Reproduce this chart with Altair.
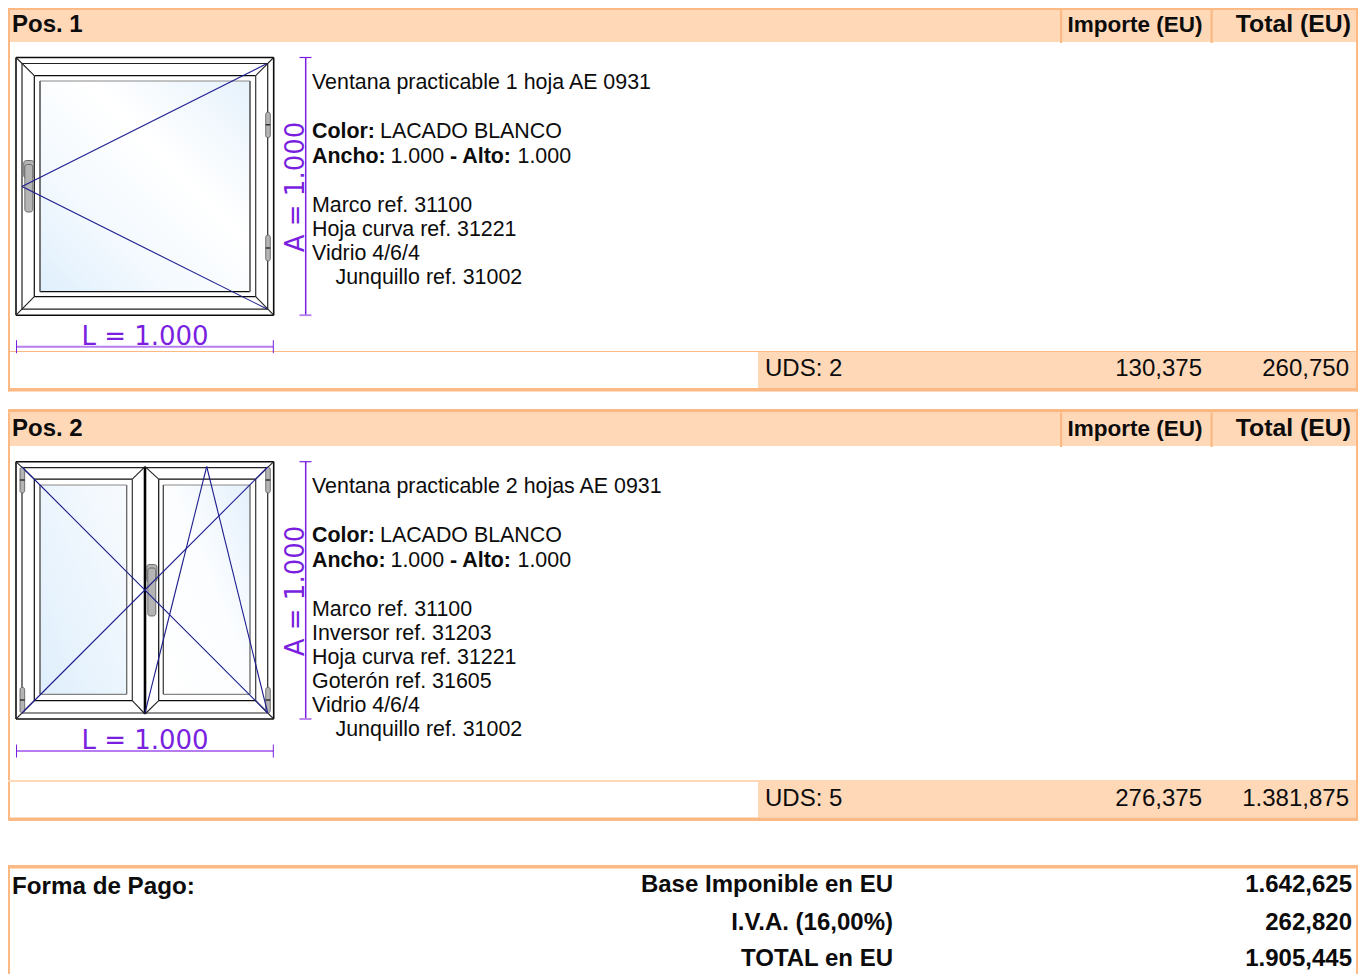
import altair as alt
import pandas as pd

# ---- page palette
BORDER = "#fdb983"
BAND = "#ffd8b8"
INK = "#0c0c0c"
PURPLE = "#7a1fe0"
LILAC = "#b67cf0"
NAVY = "#1c1c8e"
GREY = "#b4b4b4"
SANS = "Liberation Sans"
DIM = "DejaVu Sans"

# ---- content
pos_titles = ["Pos. 1", "Pos. 2"]
col_titles = ["Importe (EU)", "Total (EU)"]
units = ["UDS: 2", "UDS: 5"]
prices = ["130,375", "276,375"]
totals = ["260,750", "1.381,875"]
descriptions = ["Ventana practicable 1 hoja AE 0931", "Ventana practicable 2 hojas AE 0931"]
parts = [
    ["Marco ref. 31100", "Hoja curva ref. 31221", "Vidrio 4/6/4"],
    ["Marco ref. 31100", "Inversor ref. 31203", "Hoja curva ref. 31221", "Goterón ref. 31605", "Vidrio 4/6/4"],
]
bead = "Junquillo ref. 31002"
dim_w = "L = 1.000"
dim_h = "A = 1.000"
summary_labels = ["Base Imponible en EU", "I.V.A. (16,00%)", "TOTAL en EU"]
summary_values = ["1.642,625", "262,820", "1.905,445"]

# ---- block geometry (page pixels)
top = [8.0, 412.5]
head_bot = [42.0, 446.0]
sep = [351.5, 781.0]
band_top = [352.0, 782.0]
bot = [388.0, 817.5]
win_top = [57.5, 461.7]
win_bot = [315.2, 719.0]
line_base = [88.5, 492.5]
dim_y = [346.7, 751.0]
RIGHT_IN = 1356

rects, lines, rounds, reg, bold, head, dims = [], [], [], [], [], [], []


def R(x0, x1, y0, y1, c):
    rects.append(dict(x=x0, x2=x1, y=y0, y2=y1, c=c))


def L(x0, y0, x1, y1, c=INK, w=1.2):
    lines.append(dict(x=x0, x2=x1, y=y0, y2=y1, c=c, w=w))


def T(store, x, y, text, align="left", size=21.4, font=SANS, c=INK):
    store.append(dict(x=x, y=y, t=text, a=align, s=size, f=font, c=c))


for i in range(2):
    R(10 if i == 0 else 8, RIGHT_IN, max(top[i], 10) if i == 0 else top[i], head_bot[i], BAND)
    R(758, RIGHT_IN, band_top[i], bot[i], BAND)
    R(8, 10, top[i], bot[i] + 3.5, BORDER)
    R(RIGHT_IN, 1358, top[i] - 3.5 if i else 8, bot[i] + 3.5, BORDER)
    R(8, 1358, bot[i], bot[i] + 3.5, BORDER)
    R(8, 1358, top[i] - 3.5 if i else 8, top[i] if i else 10, BORDER)
    R(1060, 1062.2, top[i], head_bot[i] + 1, BORDER)
    R(1210.5, 1212.7, top[i], head_bot[i] + 1, BORDER)
    L(8, sep[i], RIGHT_IN, sep[i], BORDER if i == 0 else BAND, 1 if i == 0 else 2)

    hb = top[i] + 23.5
    T(head, 12, hb, pos_titles[i], size=24)
    T(head, 1067.5, hb, col_titles[0], size=22.5)
    T(head, 1351, hb, col_titles[1], "right", size=24.8)

    y0 = line_base[i]
    T(reg, 312, y0, descriptions[i])
    T(bold, 312, y0 + 49.5, "Color:")
    T(reg, 380, y0 + 49.5, "LACADO BLANCO")
    T(bold, 312, y0 + 74.5, "Ancho:")
    T(reg, 390.5, y0 + 74.5, "1.000")
    T(bold, 450, y0 + 74.5, "- Alto:")
    T(reg, 517.5, y0 + 74.5, "1.000")
    for k, p in enumerate(parts[i]):
        T(reg, 312, y0 + 123.5 + 24 * k, p)
    T(reg, 335.5, y0 + 123.5 + 24 * len(parts[i]), bead)

    T(reg, 765, bot[i] - 12, units[i], size=24)
    T(reg, 1202, bot[i] - 12, prices[i], "right", size=24)
    T(reg, 1349, bot[i] - 12, totals[i], "right", size=24)

    # dimension lines
    wt, wb = win_top[i], win_bot[i]
    L(305.7, wt, 305.7, wb, PURPLE, 1.5)
    L(299.5, wt, 311.5, wt, PURPLE, 1.2)
    L(299.5, wb, 311.5, wb, LILAC, 1.8)
    L(16.5, dim_y[i], 273.3, dim_y[i], LILAC, 2)
    L(16.5, dim_y[i] - 6.5, 16.5, dim_y[i] + 6.5, PURPLE, 1)
    L(273.3, dim_y[i] - 6.5, 273.3, dim_y[i] + 6.5, PURPLE, 1)
    T(dims, 145, dim_y[i] - 2, dim_w, "center", 26, DIM, PURPLE)

    # frame
    L(16, wt, 273.7, wt, w=1.6)
    L(16, wb, 273.7, wb, w=1.6)
    L(16, wt, 16, wb, w=1.6)
    L(273.7, wt, 273.7, wb, w=1.6)
    L(22, wt + 6, 267.7, wt + 6, "#222222", 1.2)
    L(22, wb - 6, 267.7, wb - 6, "#222222", 1.2)
    L(22, wt + 6, 22, wb - 6, "#222222", 1.2)
    L(267.7, wt + 6, 267.7, wb - 6, "#222222", 1.2)

# ---- single sash window
t, b = win_top[0], win_bot[0]
L(34.3, t + 18.2, 255.7, t + 18.2)
L(34.3, b - 18.5, 255.7, b - 18.5)
L(34.3, t + 18.2, 34.3, b - 18.5)
L(255.7, t + 18.2, 255.7, b - 18.5, "#333333")
L(40, t + 23.5, 250, t + 23.5, "#888888", 1)
L(40, b - 23.5, 250, b - 23.5)
L(40, t + 23.5, 40, b - 23.5, "#555555", 1.6)
L(250, t + 23.5, 250, b - 23.5, "#777777", 2)
for a, c, d, e in [(16, t, 34.3, t + 18.2), (273.7, t, 255.7, t + 18.2), (16, b, 34.3, b - 18.5), (273.7, b, 255.7, b - 18.5)]:
    L(a, c, d, e, "#222222", 1.1)

# ---- double sash window
t, b = win_top[1], win_bot[1]
for a, z in [(34.3, 132.3), (158.7, 255.7)]:
    L(a, t + 17.5, z, t + 17.5)
    L(a, b - 18.3, z, b - 18.3)
    L(a, t + 17.5, a, b - 18.3)
    L(z, t + 17.5, z, b - 18.3, "#333333")
for a, z in [(40, 126.7), (163.3, 250)]:
    L(a, t + 23.3, z, t + 23.3, "#888888", 1)
    L(a, b - 24.7, z, b - 24.7, "#666666", 1)
    L(a, t + 23.3, a, b - 24.7, "#444444", 1.3)
    L(z, t + 23.3, z, b - 24.7, "#666666", 1.3)
L(145, t + 5, 145, b - 5, "#000000", 2.6)
for a, c, d, e in [(16, t, 34.3, t + 17.5), (273.7, t, 255.7, t + 17.5), (16, b, 34.3, b - 18.3), (273.7, b, 255.7, b - 18.3),
                   (145, t + 5, 132.3, t + 17.5), (145, t + 5, 158.7, t + 17.5), (145, b - 5, 132.3, b - 18.3), (145, b - 5, 158.7, b - 18.3)]:
    L(a, c, d, e, "#222222", 1.1)

# ---- opening diagrams
blue = [
    (22, 186.5, 267, 63.5), (22, 186.5, 267, 309),
    (22, 467, 267.7, 713), (22, 713, 267.7, 467),
    (145, 713, 206.7, 466.5), (206.7, 466.5, 267.7, 713),
]
blue_lines = [dict(x=a, y=b_, x2=c, y2=d, c=NAVY, w=1.1) for a, b_, c, d in blue]

# ---- hinges and handles
for box in [(265.7, 270.3, 112, 137.7), (265.7, 270.3, 235, 261),
            (20, 24.7, 467.2, 493), (20, 24.7, 687.3, 713), (265.7, 270.3, 467.2, 493), (265.7, 270.3, 687.3, 713),
            (23.7, 34, 160.5, 178), (24.8, 32.8, 164.5, 212),
            (146.7, 157, 564.5, 582), (147.8, 155.8, 568, 616)]:
    rounds.append(dict(x=box[0], x2=box[1], y=box[2], y2=box[3], c=GREY))
for x0, x1, ym in [(265.7, 270.3, 124.8), (265.7, 270.3, 248), (20, 24.7, 480), (20, 24.7, 700), (265.7, 270.3, 480), (265.7, 270.3, 700)]:
    L(x0, ym, x1, ym, "#111111", 1.2)
HINGE_MARKS = 6

# ---- summary box
R(8, 10, 865, 974, BORDER)
R(RIGHT_IN, 1358, 865, 974, BORDER)
R(8, 1358, 865, 868.5, BORDER)
T(head, 12, 893.5, "Forma de Pago:", size=24.2)
for text, val, y in zip(summary_labels, summary_values, [891.5, 929.5, 965.5]):
    T(head, 893, y, text, "right", size=24)
    T(head, 1352, y, val, "right", size=24)

# ---- scales: data are page pixels
X = alt.Scale(domain=[8, 1358], range=[0, 1350], nice=False, zero=False)
Y = alt.Scale(domain=[8, 974], range=[0, 966], nice=False, zero=False)


def pos():
    return dict(
        x=alt.X("x:Q", scale=X, axis=None),
        y=alt.Y("y:Q", scale=Y, axis=None),
    )


def boxes(rows, **kw):
    return alt.Chart(pd.DataFrame(rows)).mark_rect(**kw).encode(
        **pos(), x2="x2:Q", y2="y2:Q", color=alt.Color("c:N", scale=None)
    )


def rules(rows):
    return alt.Chart(pd.DataFrame(rows)).mark_rule().encode(
        **pos(), x2="x2:Q", y2="y2:Q",
        color=alt.Color("c:N", scale=None),
        strokeWidth=alt.StrokeWidth("w:Q", scale=None),
    )


def texts(rows, **kw):
    frames = []
    df = pd.DataFrame(rows)
    for a, sub in df.groupby("a"):
        frames.append(
            alt.Chart(sub).mark_text(align=a, baseline="alphabetic", font=sub["f"].iloc[0], **kw).encode(
                **pos(), text="t:N",
                color=alt.Color("c:N", scale=None),
                size=alt.Size("s:Q", scale=None),
            )
        )
    return frames


def glass(x0, x1, y0, y1, stops):
    return alt.Chart(pd.DataFrame([dict(x=x0, x2=x1, y=y0, y2=y1)])).mark_rect(
        fill=alt.LinearGradient(
            gradient="linear", x1=0, y1=1, x2=1, y2=0,
            stops=[alt.GradientStop(color=c, offset=o) for o, c in stops],
        )
    ).encode(**pos(), x2="x2:Q", y2="y2:Q")


layers = [
    boxes(rects),
    glass(40, 250, 81, 291.7, [(0, "#dfeffc"), (0.3, "#f3f9fe"), (0.62, "#ffffff"), (1, "#e6f2fc")]),
    glass(40, 126.7, 485, 694.3, [(0, "#dfeffc"), (0.5, "#ecf5fd"), (1, "#f8fbfe")]),
    glass(163.3, 250, 485, 694.3, [(0, "#ffffff"), (0.55, "#fbfdff"), (1, "#e4f0fc")]),
    rules(lines[:-HINGE_MARKS]),
    boxes(rounds, cornerRadius=2.5, stroke="#555555", strokeWidth=0.8),
    rules(lines[-HINGE_MARKS:]),
    rules(blue_lines),
]
layers += texts(reg) + texts(bold, fontWeight="bold") + texts(head, fontWeight="bold") + texts(dims)
for y in [187.0, 591.0]:
    layers.append(
        alt.Chart(pd.DataFrame([dict(x=303.5, y=y, t=dim_h)])).mark_text(
            align="center", baseline="alphabetic", angle=270, font=DIM, fontSize=26, color=PURPLE
        ).encode(**pos(), text="t:N")
    )

chart = alt.layer(*layers).properties(
    width=1350, height=966, padding=0, background="white",
    autosize=alt.AutoSizeParams(type="none"),
).configure_view(stroke=None)

chart.save("out.html", embed_options={"renderer": "svg", "actions": False})
